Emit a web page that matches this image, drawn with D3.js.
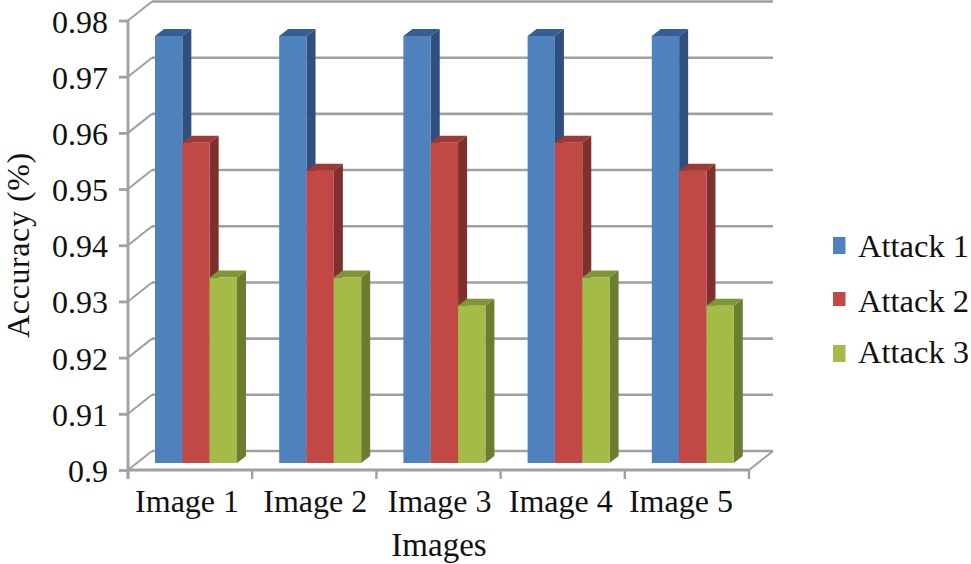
<!DOCTYPE html>
<html><head><meta charset="utf-8">
<script src="https://cdn.jsdelivr.net/npm/d3@7/dist/d3.min.js"></script>
<style>html,body{margin:0;background:#fff}svg{display:block}text{font-family:"Liberation Serif",serif;fill:#111}</style>
</head><body><svg width="971" height="564"></svg>
<script>
const categories=["Image 1","Image 2","Image 3","Image 4","Image 5"];
const seriesNames=["Attack 1","Attack 2","Attack 3"];
const attack1=[0.976,0.976,0.976,0.976,0.976];
const attack2=[0.957,0.952,0.957,0.957,0.952];
const attack3=[0.933,0.933,0.928,0.933,0.928];
const yTicks=[0.9,0.91,0.92,0.93,0.94,0.95,0.96,0.97,0.98];
const yLabels=["0.9","0.91","0.92","0.93","0.94","0.95","0.96","0.97","0.98"];
const seriesValues=[attack1,attack2,attack3];
const front=["#4f81bd","#c24845","#a5bb47"],side=["#2f4f7e","#7f302d","#6b7e2f"],topc=["#365f91","#9c3a38","#7d9636"];
const grey="#a0a0a0";
const svg=d3.select("svg");
const x=d3.scaleBand().domain(categories).range([128,749]);
const y=d3.scaleLinear().domain([0.9,0.98]).range([470,20.5]);
const s=d3.scaleBand().domain(d3.range(3)).range([0,82]);
const wallDx=24,wallDy=-19,barDx=27,barDy=-7,dDx=9,dDy=-7;
const g=svg.append("g");
g.selectAll(".grid").data(yTicks).join("line").attr("x1",128+wallDx).attr("x2",749+wallDx)
 .attr("y1",d=>y(d)+wallDy).attr("y2",d=>y(d)+wallDy).attr("stroke",grey).attr("stroke-width",2.6);
g.selectAll(".diag").data(yTicks).join("line").attr("x1",128).attr("x2",128+wallDx)
 .attr("y1",d=>y(d)).attr("y2",d=>y(d)+wallDy).attr("stroke",grey).attr("stroke-width",2);
g.append("line").attr("x1",749).attr("x2",749+wallDx).attr("y1",y(0.9)).attr("y2",y(0.9)+wallDy).attr("stroke",grey).attr("stroke-width",2);
const bars=g.append("g");
categories.forEach((c,i)=>{
 [0,1,2].forEach(k=>{
  const v=seriesValues[k][i];
  const bx=x(c)+barDx+s(k),w=s.bandwidth(),ty=y(v)+barDy,by=y(0.9)+barDy;
  const b=bars.append("g");
  b.append("path").attr("fill",side[k]).attr("d",`M${bx+w},${ty}l${dDx},${dDy}V${by+dDy}l${-dDx},${-dDy}Z`);
  b.append("path").attr("fill",topc[k]).attr("d",`M${bx},${ty}l${dDx},${dDy}h${w}l${-dDx},${-dDy}Z`);
  b.append("rect").attr("x",bx).attr("y",ty).attr("width",w).attr("height",by-ty).attr("fill",front[k]);
 });
});
// axes
const ya=d3.axisLeft(y).tickValues(yTicks).tickSize(9).tickFormat((d,i)=>yLabels[i]).tickPadding(11);
const ag=svg.append("g").attr("transform","translate(128,0)").call(ya);
ag.selectAll("line,path").attr("stroke",grey).attr("stroke-width",2.8);
ag.select(".domain").attr("d",`M0,${y(0.98)}V${y(0.9)+9}`);
ag.selectAll("text").attr("font-size",32).attr("fill","#111").attr("dy","0.36em").style("font-family",'"Liberation Serif",serif');
const edges=categories.map(c=>x(c)).concat([749]);
const labelNudge=[-3,1,1,-2,-6];
const xa=svg.append("g");
xa.append("line").attr("x1",128).attr("x2",749).attr("y1",y(0.9)).attr("y2",y(0.9)).attr("stroke",grey).attr("stroke-width",2.8);
xa.selectAll(".t").data(edges).join("line").attr("x1",d=>d).attr("x2",d=>d).attr("y1",y(0.9)).attr("y2",y(0.9)+9).attr("stroke",grey).attr("stroke-width",2.4);
xa.selectAll("text").data(categories).join("text").attr("x",(d,i)=>x(d)+x.bandwidth()/2+labelNudge[i]).attr("y",512).attr("text-anchor","middle").attr("font-size",32).text(d=>d);
svg.append("text").attr("x",439).attr("y",556).attr("text-anchor","middle").attr("font-size",33).text("Images");
svg.append("text").attr("transform","translate(29,245) rotate(-90)").attr("text-anchor","middle").attr("font-size",32).attr("letter-spacing",0.6).text("Accuracy (%)");
const legendBase=[257,312,363],swatchTop=[237,292,345],swatchH=[17,14,17];
const lg=svg.append("g");
seriesNames.forEach((n,k)=>{
 lg.append("rect").attr("x",833).attr("y",swatchTop[k]).attr("width",12.5).attr("height",swatchH[k]).attr("fill",front[k]);
 lg.append("text").attr("x",858).attr("y",legendBase[k]).attr("font-size",32.5).text(n);
});
</script></body></html>
